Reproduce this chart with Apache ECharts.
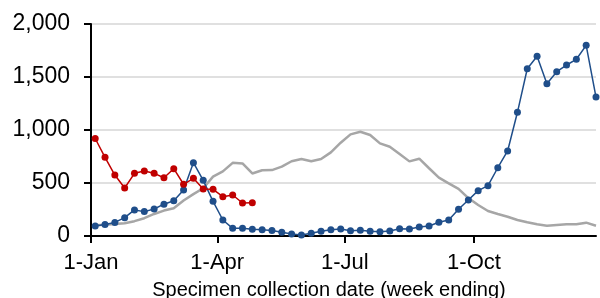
<!DOCTYPE html>
<html>
<head>
<meta charset="utf-8">
<script src="https://cdn.jsdelivr.net/npm/echarts@6/dist/echarts.min.js"></script>
<style>
html,body{margin:0;padding:0;background:#fff;}
#chart{width:600px;height:298px;}
</style>
</head>
<body>
<div id="chart"></div>
<script>
// Week-ending dates as day of year (0 = 1 Jan)
var firstWeekEndDay = 3;
var weekCount = 52;
var weekEndDays = [];
for (var i = 0; i < weekCount; i++) weekEndDays.push(firstWeekEndDay + 7 * i);

var tickDays = [0, 90, 181, 273];
var tickLabels = ['1-Jan', '1-Apr', '1-Jul', '1-Oct'];
var yTicks = [0, 500, 1000, 1500, 2000];

var blueSeries = [95, 108, 128, 173, 246, 230, 255, 300, 333, 434, 692, 525, 327, 151, 72, 72, 63, 60, 52, 35,
  19, 9, 25, 44, 60, 66, 50, 54, 44, 41, 47, 69, 66, 85, 94, 130, 150, 252, 340, 428,
  475, 644, 802, 1167, 1578, 1695, 1437, 1550, 1613, 1667, 1799, 1311];
var redSeries = [920, 742, 575, 453, 591, 613, 591, 550, 635, 488, 544, 443, 440, 371, 387, 311, 314];
var graySeries = [101, 107, 113, 120, 140, 168, 208, 240, 262, 335, 395, 450, 560, 610, 690, 685, 590, 620, 622, 654,
  705, 726, 705, 726, 789, 880, 959, 984, 953, 874, 842, 774, 704, 729, 639, 550, 497, 445, 358, 292,
  236, 208, 182, 151, 129, 110, 97, 104, 110, 110, 126, 97];

function pair(vals) {
  return vals.map(function (v, i) { return [weekEndDays[i], v]; });
}

var FONT = 'Liberation Sans, Arial, sans-serif';
var chart = echarts.init(document.getElementById('chart'), null, {renderer: 'canvas'});
chart.setOption({
  animation: false,
  backgroundColor: '#ffffff',
  title: {
    text: 'Specimen collection date (week ending)',
    left: 324,
    top: 275,
    textAlign: 'center',
    textStyle: {fontFamily: FONT, fontSize: 20, fontWeight: 'normal', color: '#000'}
  },
  grid: {left: 91, right: 4, top: 24, bottom: 62},
  xAxis: {
    type: 'value',
    min: 0,
    max: weekEndDays[weekEndDays.length - 1],
    splitLine: {show: false},
    axisLine: {onZero: false, lineStyle: {color: '#000', width: 2}},
    axisTick: {show: true, length: 7, inside: false, customValues: tickDays, lineStyle: {color: '#000', width: 2}},
    axisLabel: {
      customValues: tickDays,
      margin: 16,
      fontFamily: FONT, fontSize: 22, color: '#000',
      formatter: function (v) { var k = tickDays.indexOf(v); return k >= 0 ? tickLabels[k] : ''; }
    }
  },
  yAxis: {
    type: 'value',
    min: yTicks[0],
    max: yTicks[yTicks.length - 1],
    interval: 500,
    axisLine: {show: true, lineStyle: {color: '#000', width: 2}},
    axisTick: {show: true, length: 7, lineStyle: {color: '#000', width: 2}},
    splitLine: {show: true, lineStyle: {color: '#e0e0e0', width: 2}},
    axisLabel: {
      margin: 21,
      fontFamily: FONT, fontSize: 23, color: '#000',
      formatter: function (v) { return v.toLocaleString('en-US'); }
    }
  },
  series: [
    {
      type: 'line', data: pair(graySeries), symbol: 'none',
      lineStyle: {color: '#a6a6a6', width: 2.5}, z: 2
    },
    {
      type: 'line', data: pair(blueSeries), symbol: 'circle', symbolSize: 7,
      itemStyle: {color: '#1f4e8a'}, lineStyle: {color: '#1f4e8a', width: 1.5}, z: 3
    },
    {
      type: 'line', data: pair(redSeries), symbol: 'circle', symbolSize: 7,
      itemStyle: {color: '#c00000'}, lineStyle: {color: '#c00000', width: 1.5}, z: 4
    }
  ]
});
</script>
</body>
</html>
